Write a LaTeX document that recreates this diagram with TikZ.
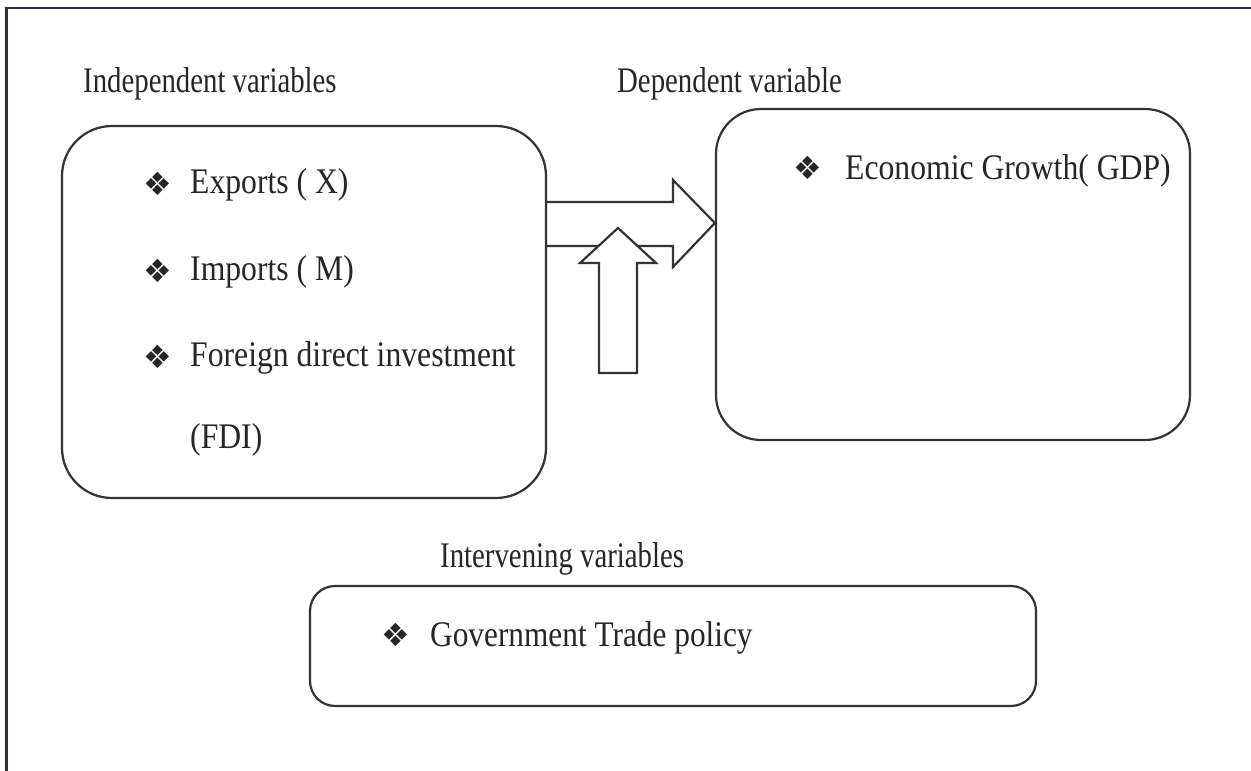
\documentclass[tikz,border=0pt]{standalone}
\usepackage{fontspec}
\setmainfont{Liberation Serif}
\newfontfamily\lblfont{Liberation Serif}[FakeStretch=0.8]
\newfontfamily\txtfont{Liberation Serif}[FakeStretch=0.88]
\newfontfamily\symfont{DejaVu Sans}
\definecolor{framecol}{HTML}{2E2E44}
\definecolor{boxcol}{HTML}{333333}
\tikzset{
  box/.style={draw=boxcol, line width=2.2pt, fill=none, inner sep=0pt},
  lbl/.style={anchor=base west, inner sep=0pt, font=\lblfont\fontsize{36}{40}\selectfont, text=black!85},
  itm/.style={anchor=base west, inner sep=0pt, font=\txtfont\fontsize{36}{40}\selectfont, text=black!85},
  bul/.style={inner sep=0pt, font=\symfont\fontsize{32}{36}\selectfont, text=black!85},
  blockarrow/.style={draw=boxcol, line width=2.2pt, fill=white, line join=miter},
}
\begin{document}
\begin{tikzpicture}[x=1pt,y=-1pt]
\useasboundingbox (0,0) rectangle (1251,771);
\fill[white] (0,0) rectangle (1251,771);
% outer frame (only top and left visible)
\coordinate (fbl) at (6.5,771);
\coordinate (ftl) at (6.5,8);
\coordinate (ftr) at (1251,8);
\draw[framecol, line width=2.5pt] (fbl) -- (ftl) -- (ftr);
% boxes
\node[box, minimum width=484pt, minimum height=372pt, rounded corners=50pt] (L) at (304,312) {};
\node[box, minimum width=474pt, minimum height=331pt, rounded corners=45pt] (R) at (953,274.5) {};
\node[box, minimum width=726pt, minimum height=120pt, rounded corners=25pt] (B) at (673,646) {};
% labels
\node[lbl] (lI) at (83,92) {Independent variables};
\node[lbl] (lD) at (617,92) {Dependent variable};
\node[lbl] (lV) at (440,567) {Intervening variables};
% items
\node[bul] (b1) at (158,184) {❖};
\node[itm] (t1) at (190,193) {Exports ( X)};
\node[bul] (b2) at (158,271) {❖};
\node[itm] (t2) at (190,280) {Imports ( M)};
\node[bul] (b3) at (158,357) {❖};
\node[itm] (t3) at (190,366) {Foreign direct investment};
\node[itm] (t4) at (190,448) {(FDI)};
\node[bul] (b5) at (808,168) {❖};
\node[itm] (t5) at (845,179) {Economic Growth( GDP)};
\node[bul] (b6) at (396,635) {❖};
\node[itm, font=\lblfont\fontsize{36}{40}\selectfont\addfontfeatures{FakeStretch=0.87}] (t6) at (430,646) {Government Trade policy};
% right block arrow from L to R
\draw[blockarrow, fill=none] (L.east |- 0,202) -- (673,202) -- (673,180) -- (R.west |- 0,223) -- (673,267) -- (673,246) -- (L.east |- 0,246);
% up block arrow
\draw[blockarrow] (599,373) -- (599,263) -- (580,263) -- (618,228) -- (656,263) -- (637,263) -- (637,373) -- cycle;
\end{tikzpicture}
\end{document}
